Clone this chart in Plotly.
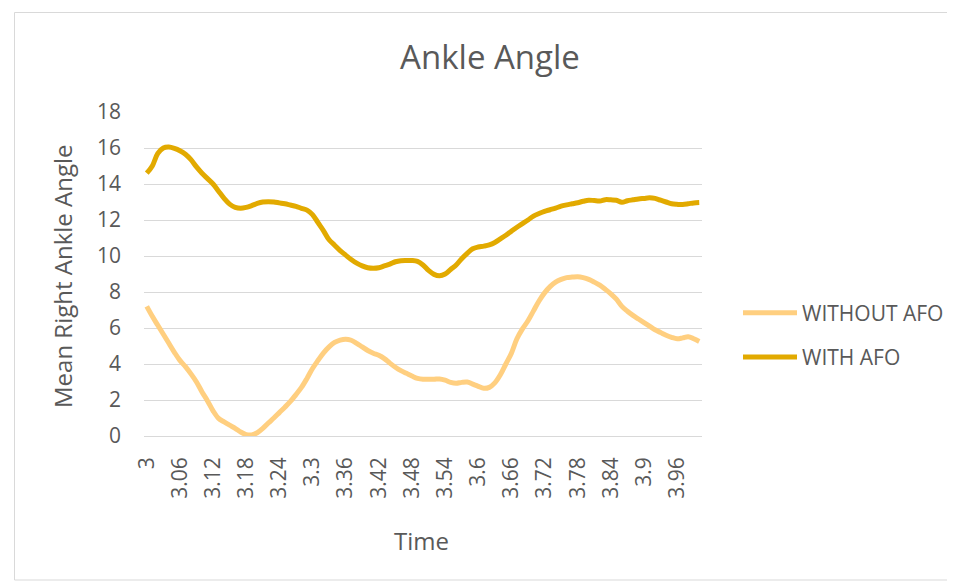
import plotly.graph_objects as go

# Time categories (3.00 .. 4.00 step 0.01)
time = [round(3 + i / 100, 2) for i in range(101)]
time_labels = [f"{t:g}" for t in time]

without_afo = [
    7.2, 6.65, 6.15, 5.65, 5.15, 4.65, 4.2, 3.85, 3.45, 3.0,
    2.45, 1.95, 1.4, 0.98, 0.78, 0.6, 0.43, 0.22, 0.08, 0.06,
    0.18, 0.42, 0.72, 1.0, 1.3, 1.6, 1.92, 2.3, 2.7, 3.2,
    3.75, 4.2, 4.62, 4.95, 5.2, 5.33, 5.38, 5.32, 5.15, 4.95,
    4.75, 4.6, 4.48, 4.3, 4.05, 3.82, 3.63, 3.48, 3.33, 3.2,
    3.15, 3.15, 3.15, 3.17, 3.1, 2.98, 2.93, 2.98, 3.0, 2.88,
    2.76, 2.65, 2.7, 2.95, 3.4, 4.0, 4.6, 5.4, 5.95, 6.4,
    6.95, 7.5, 7.95, 8.3, 8.55, 8.7, 8.8, 8.83, 8.85, 8.8,
    8.7, 8.55, 8.38, 8.15, 7.9, 7.6, 7.2, 6.93, 6.7, 6.5,
    6.3, 6.1, 5.9, 5.75, 5.6, 5.48, 5.4, 5.45, 5.52, 5.4,
    5.25,
]

with_afo = [
    14.6, 15.0, 15.7, 16.0, 16.05, 15.98, 15.85, 15.65, 15.35, 14.95,
    14.6, 14.3, 14.0, 13.6, 13.2, 12.88, 12.7, 12.65, 12.7, 12.8,
    12.92, 13.0, 13.02, 13.0, 12.95, 12.9, 12.83, 12.76, 12.65, 12.55,
    12.3, 11.85, 11.4, 10.9, 10.6, 10.3, 10.05, 9.8, 9.6, 9.45,
    9.35, 9.32, 9.35, 9.45, 9.55, 9.68, 9.74, 9.75, 9.75, 9.7,
    9.5, 9.2, 8.98, 8.9, 9.0, 9.25, 9.5, 9.85, 10.15, 10.4,
    10.5, 10.55, 10.62, 10.75, 10.95, 11.15, 11.38, 11.6, 11.8, 12.0,
    12.22, 12.36, 12.48, 12.57, 12.66, 12.77, 12.84, 12.9, 12.96, 13.04,
    13.1, 13.08, 13.06, 13.13, 13.12, 13.1, 12.98, 13.07, 13.12, 13.17,
    13.2, 13.23, 13.2, 13.1, 13.0, 12.9, 12.87, 12.86, 12.9, 12.95,
    12.97,
]

y_ticks = [0, 2, 4, 6, 8, 10, 12, 14, 16, 18]
x_tick_step = 6

FONT = "Open Sans"
TXT = "#595959"
GRID = "#d9d9d9"

# page body adds an 8px offset; work in screen coordinates and subtract it
OFF = 8
W, H = 985, 583 - OFF
L, R, T, B = 144 - OFF, 702 - OFF, 112 - OFF, 436 - OFF

fig = go.Figure()
fig.add_trace(go.Scatter(
    x=time_labels, y=without_afo, mode="lines", name="WITHOUT AFO",
    line=dict(color="#FFCF80", width=5, shape="spline", smoothing=1.0),
    legendgroup="a",
))
fig.add_trace(go.Scatter(
    x=time_labels, y=with_afo, mode="lines", name="WITH AFO",
    line=dict(color="#E2AA00", width=5, shape="spline", smoothing=1.0),
    legendgroup="b",
))

def px_x(p):
    p = p - OFF
    return (p - L) / (R - L)

def px_y(p):
    p = p - OFF
    return (B - p) / (B - T)

fig.update_layout(
    width=W, height=H, autosize=False,
    margin=dict(l=L, r=W - R, t=T, b=H - B, pad=0),
    paper_bgcolor="white", plot_bgcolor="white",
    font=dict(family=FONT, color=TXT, size=21),
    title=dict(text="Ankle Angle", x=px_x(490), xref="paper", xanchor="center",
               y=1 - (57 - OFF) / H, yref="container", yanchor="middle",
               font=dict(size=33, color=TXT, family=FONT)),
    showlegend=True,
    legend=dict(x=px_x(738), xanchor="left", y=px_y(335), yanchor="middle",
                traceorder="grouped", tracegroupgap=14, itemwidth=54,
                font=dict(size=21, color=TXT, family=FONT),
                bgcolor="rgba(0,0,0,0)"),
    xaxis=dict(
        type="category", categoryorder="array", categoryarray=time_labels,
        range=[-0.5, len(time_labels) - 0.5],
        tickmode="array", tickvals=time_labels[::x_tick_step],
        ticktext=time_labels[::x_tick_step],
        tickangle=-90, showgrid=False, zeroline=False, showline=False,
        ticks="", ticklabelstandoff=16,
        tickfont=dict(size=21, color=TXT, family=FONT),
    ),
    yaxis=dict(
        range=[0, 18], tickvals=y_ticks, showgrid=True, gridcolor=GRID,
        gridwidth=1, zeroline=True, zerolinecolor=GRID, zerolinewidth=1,
        showline=False, ticks="", ticklabelstandoff=22,
        tickfont=dict(size=21, color=TXT, family=FONT),
    ),
    annotations=[
        dict(text="Mean Right Ankle Angle", textangle=-90, xref="paper", yref="paper",
             x=px_x(62), y=px_y(276), xanchor="center", yanchor="middle",
             showarrow=False, font=dict(size=24, color=TXT, family=FONT)),
        dict(text="Time", xref="paper", yref="paper",
             x=px_x(421), y=px_y(540), xanchor="center", yanchor="middle",
             showarrow=False, font=dict(size=24, color=TXT, family=FONT)),
    ],
    shapes=[
        dict(type="rect", xref="paper", yref="paper",
             x0=px_x(14.5), x1=px_x(953), y0=px_y(580), y1=px_y(12.5),
             line=dict(color=GRID, width=1), fillcolor="rgba(0,0,0,0)", layer="below"),
    ],
)

fig.write_html("out.html")
